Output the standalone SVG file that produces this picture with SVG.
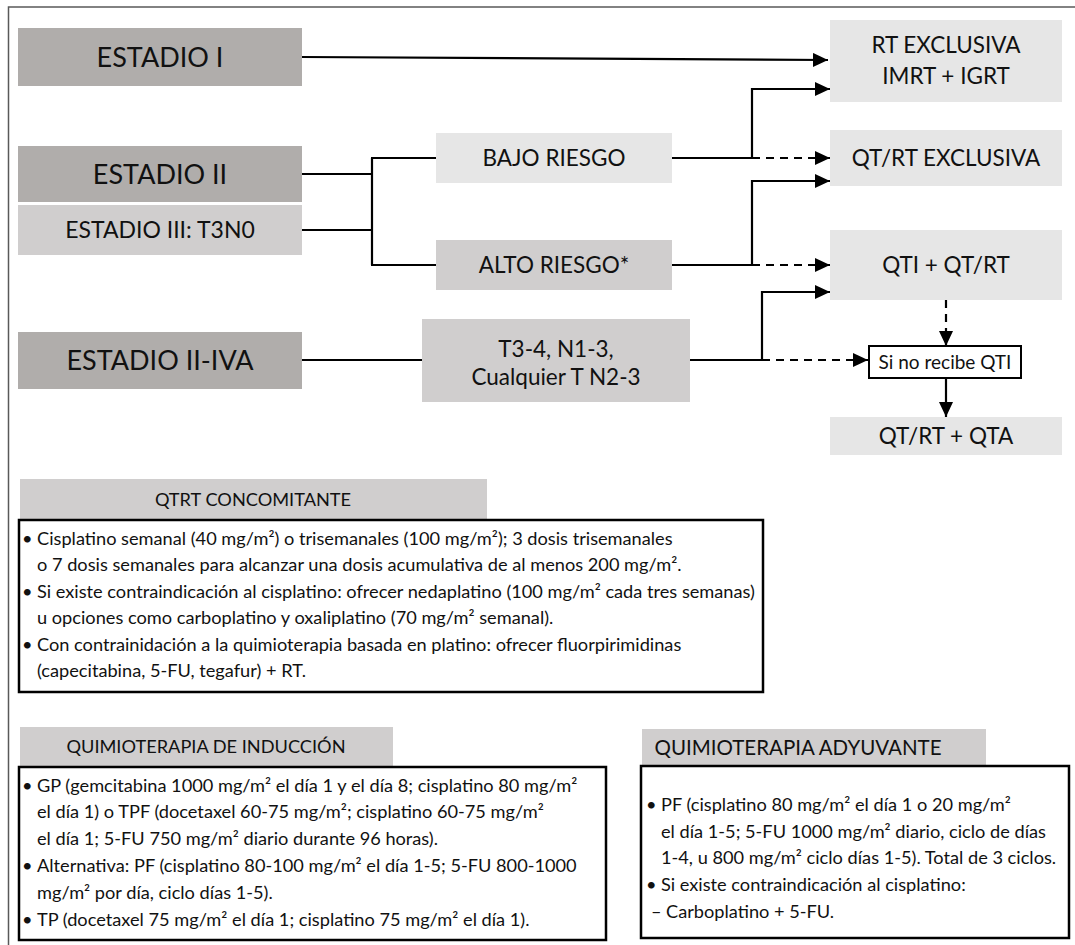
<svg xmlns="http://www.w3.org/2000/svg" width="1075" height="945" viewBox="0 0 1075 945">
<defs>
<marker id="ah" markerUnits="userSpaceOnUse" markerWidth="16" markerHeight="14" refX="15" refY="7" orient="auto"><path d="M0,0 L15,7 L0,14 z" fill="#000"/></marker>
</defs>
<style>
.t{font-family:Lato,"Open Sans","Liberation Sans",sans-serif;fill:#111;}
.big{font-size:27px;}
.mid{font-size:22.5px;}
.m2{font-size:23px;}
.sm{font-size:19px;}
.body{font-size:18.2px;}
.hd{font-size:18.2px;}
.hd2{font-size:20.5px;}
.c{text-anchor:middle;}
.dark{fill:#b0adab;}
.med{fill:#d0cece;}
.light{fill:#e6e6e6;}
.ln{fill:none;stroke:#000;stroke-width:2.2;}
.ds{stroke-dasharray:8 6;}
.tb{fill:#fff;stroke:#000;stroke-width:2.5;}
</style>
<rect width="1075" height="945" fill="#fff"/>
<path d="M8.5,946 V7 H1076" fill="none" stroke="#595959" stroke-width="1.5"/>

<g id="connectors">
<path class="ln" d="M302,57 L828,60" marker-end="url(#ah)"/>
<path class="ln" d="M302,174 H372 M302,230 H372 M372,158 V265 M371,158 H436 M371,265 H436"/>
<path class="ln" d="M672,158 H752 V89 H830" marker-end="url(#ah)"/>
<path class="ln ds" d="M752,158 H830" marker-end="url(#ah)"/>
<path class="ln" d="M672,265 H752 V181 H830" marker-end="url(#ah)"/>
<path class="ln ds" d="M752,265 H830" marker-end="url(#ah)"/>
<path class="ln" d="M302,360 H422"/>
<path class="ln" d="M690,360 H762 V292 H830" marker-end="url(#ah)"/>
<path class="ln ds" d="M762,360 H868" marker-end="url(#ah)"/>
<path class="ln ds" d="M946,300 V346" marker-end="url(#ah)"/>
<path class="ln" d="M946,378 V417" marker-end="url(#ah)"/>
</g>

<g id="estadio1"><rect class="dark" x="18" y="28" width="284" height="58"/><text class="t big c" x="160" y="66.5">ESTADIO I</text></g>
<g id="estadio2"><rect class="dark" x="18" y="146" width="284" height="56"/><text class="t big c" x="160" y="183.5">ESTADIO II</text></g>
<g id="estadio3"><rect class="med" x="18" y="205" width="284" height="50"/><text class="t m2 c" x="160" y="238">ESTADIO III: T3N0</text></g>
<g id="estadio2iva"><rect class="dark" x="18" y="332" width="284" height="57"/><text class="t big c" x="160" y="369.5">ESTADIO II-IVA</text></g>

<g id="bajo"><rect class="light" x="436" y="133" width="236" height="50"/><text class="t mid c" x="554" y="166">BAJO RIESGO</text></g>
<g id="alto"><rect class="med" x="436" y="240" width="236" height="50"/><text class="t mid c" x="554" y="273">ALTO RIESGO*</text></g>
<g id="t34"><rect class="med" x="422" y="319" width="268" height="83"/><text class="t mid c" x="556" y="357">T3-4, N1-3,</text><text class="t mid c" x="556" y="385">Cualquier T N2-3</text></g>

<g id="rtexcl"><rect class="light" x="830" y="20" width="232" height="82"/><text class="t mid c" x="946" y="53">RT EXCLUSIVA</text><text class="t mid c" x="946" y="84">IMRT + IGRT</text></g>
<g id="qtrtexcl"><rect class="light" x="830" y="130" width="232" height="56"/><text class="t mid c" x="946" y="166">QT/RT EXCLUSIVA</text></g>
<g id="qti"><rect class="light" x="830" y="230" width="232" height="70"/><text class="t mid c" x="946" y="273">QTI + QT/RT</text></g>
<g id="sino"><rect fill="#fff" stroke="#000" stroke-width="2" x="869" y="346" width="152" height="32"/><text class="t sm c" x="945" y="368.5">Si no recibe QTI</text></g>
<g id="qta"><rect class="light" x="830" y="417" width="232" height="38"/><text class="t mid c" x="946" y="444">QT/RT + QTA</text></g>

<g id="qtrt">
<rect class="med" x="20" y="479" width="467" height="40"/>
<text class="t hd c" x="253" y="505.5">QTRT CONCOMITANTE</text>
<rect class="tb" x="19" y="520" width="744" height="172"/>
<g class="t body">
<text x="22" y="544.5">•</text><text x="37" y="544.5">Cisplatino semanal (40 mg/m²) o trisemanales (100 mg/m²); 3 dosis trisemanales</text>
<text x="37" y="571">o 7 dosis semanales para alcanzar una dosis acumulativa de al menos 200 mg/m².</text>
<text x="22" y="597.5">•</text><text x="37" y="597.5">Si existe contraindicación al cisplatino: ofrecer nedaplatino (100 mg/m² cada tres semanas)</text>
<text x="37" y="623.5">u opciones como carboplatino y oxaliplatino (70 mg/m² semanal).</text>
<text x="22" y="650.5">•</text><text x="37" y="650.5">Con contrainidación a la quimioterapia basada en platino: ofrecer fluorpirimidinas</text>
<text x="37" y="676.5">(capecitabina, 5-FU, tegafur) + RT.</text>
</g>
</g>

<g id="induccion">
<rect class="med" x="20" y="727" width="373" height="39"/>
<text class="t hd c" x="206" y="753">QUIMIOTERAPIA DE INDUCCIÓN</text>
<rect class="tb" x="19" y="767" width="587" height="173"/>
<g class="t body">
<text x="22" y="791.5">•</text><text x="37" y="791.5">GP (gemcitabina 1000 mg/m² el día 1 y el día 8; cisplatino 80 mg/m²</text>
<text x="37" y="818">el día 1) o TPF (docetaxel 60-75 mg/m²; cisplatino 60-75 mg/m²</text>
<text x="37" y="844.5">el día 1; 5-FU 750 mg/m² diario durante 96 horas).</text>
<text x="22" y="871.5">•</text><text x="37" y="871.5">Alternativa: PF (cisplatino 80-100 mg/m² el día 1-5; 5-FU 800-1000</text>
<text x="37" y="898.5">mg/m² por día, ciclo días 1-5).</text>
<text x="22" y="925.5">•</text><text x="37" y="925.5">TP (docetaxel 75 mg/m² el día 1; cisplatino 75 mg/m² el día 1).</text>
</g>
</g>

<g id="adyuvante">
<rect class="med" x="642" y="729" width="344" height="36"/>
<text class="t hd2 c" x="798" y="754.5">QUIMIOTERAPIA ADYUVANTE</text>
<rect class="tb" x="641" y="766" width="428" height="172"/>
<g class="t body">
<text x="646" y="810.5">•</text><text x="661" y="810.5">PF (cisplatino 80 mg/m² el día 1 o 20 mg/m²</text>
<text x="661" y="837.5">el día 1-5; 5-FU 1000 mg/m² diario, ciclo de días</text>
<text x="661" y="863.5">1-4, u 800 mg/m² ciclo días 1-5). Total de 3 ciclos.</text>
<text x="646" y="890.5">•</text><text x="661" y="890.5">Si existe contraindicación al cisplatino:</text>
<text x="651" y="917.5">–</text><text x="666" y="917.5">Carboplatino + 5-FU.</text>
</g>
</g>
</svg>
